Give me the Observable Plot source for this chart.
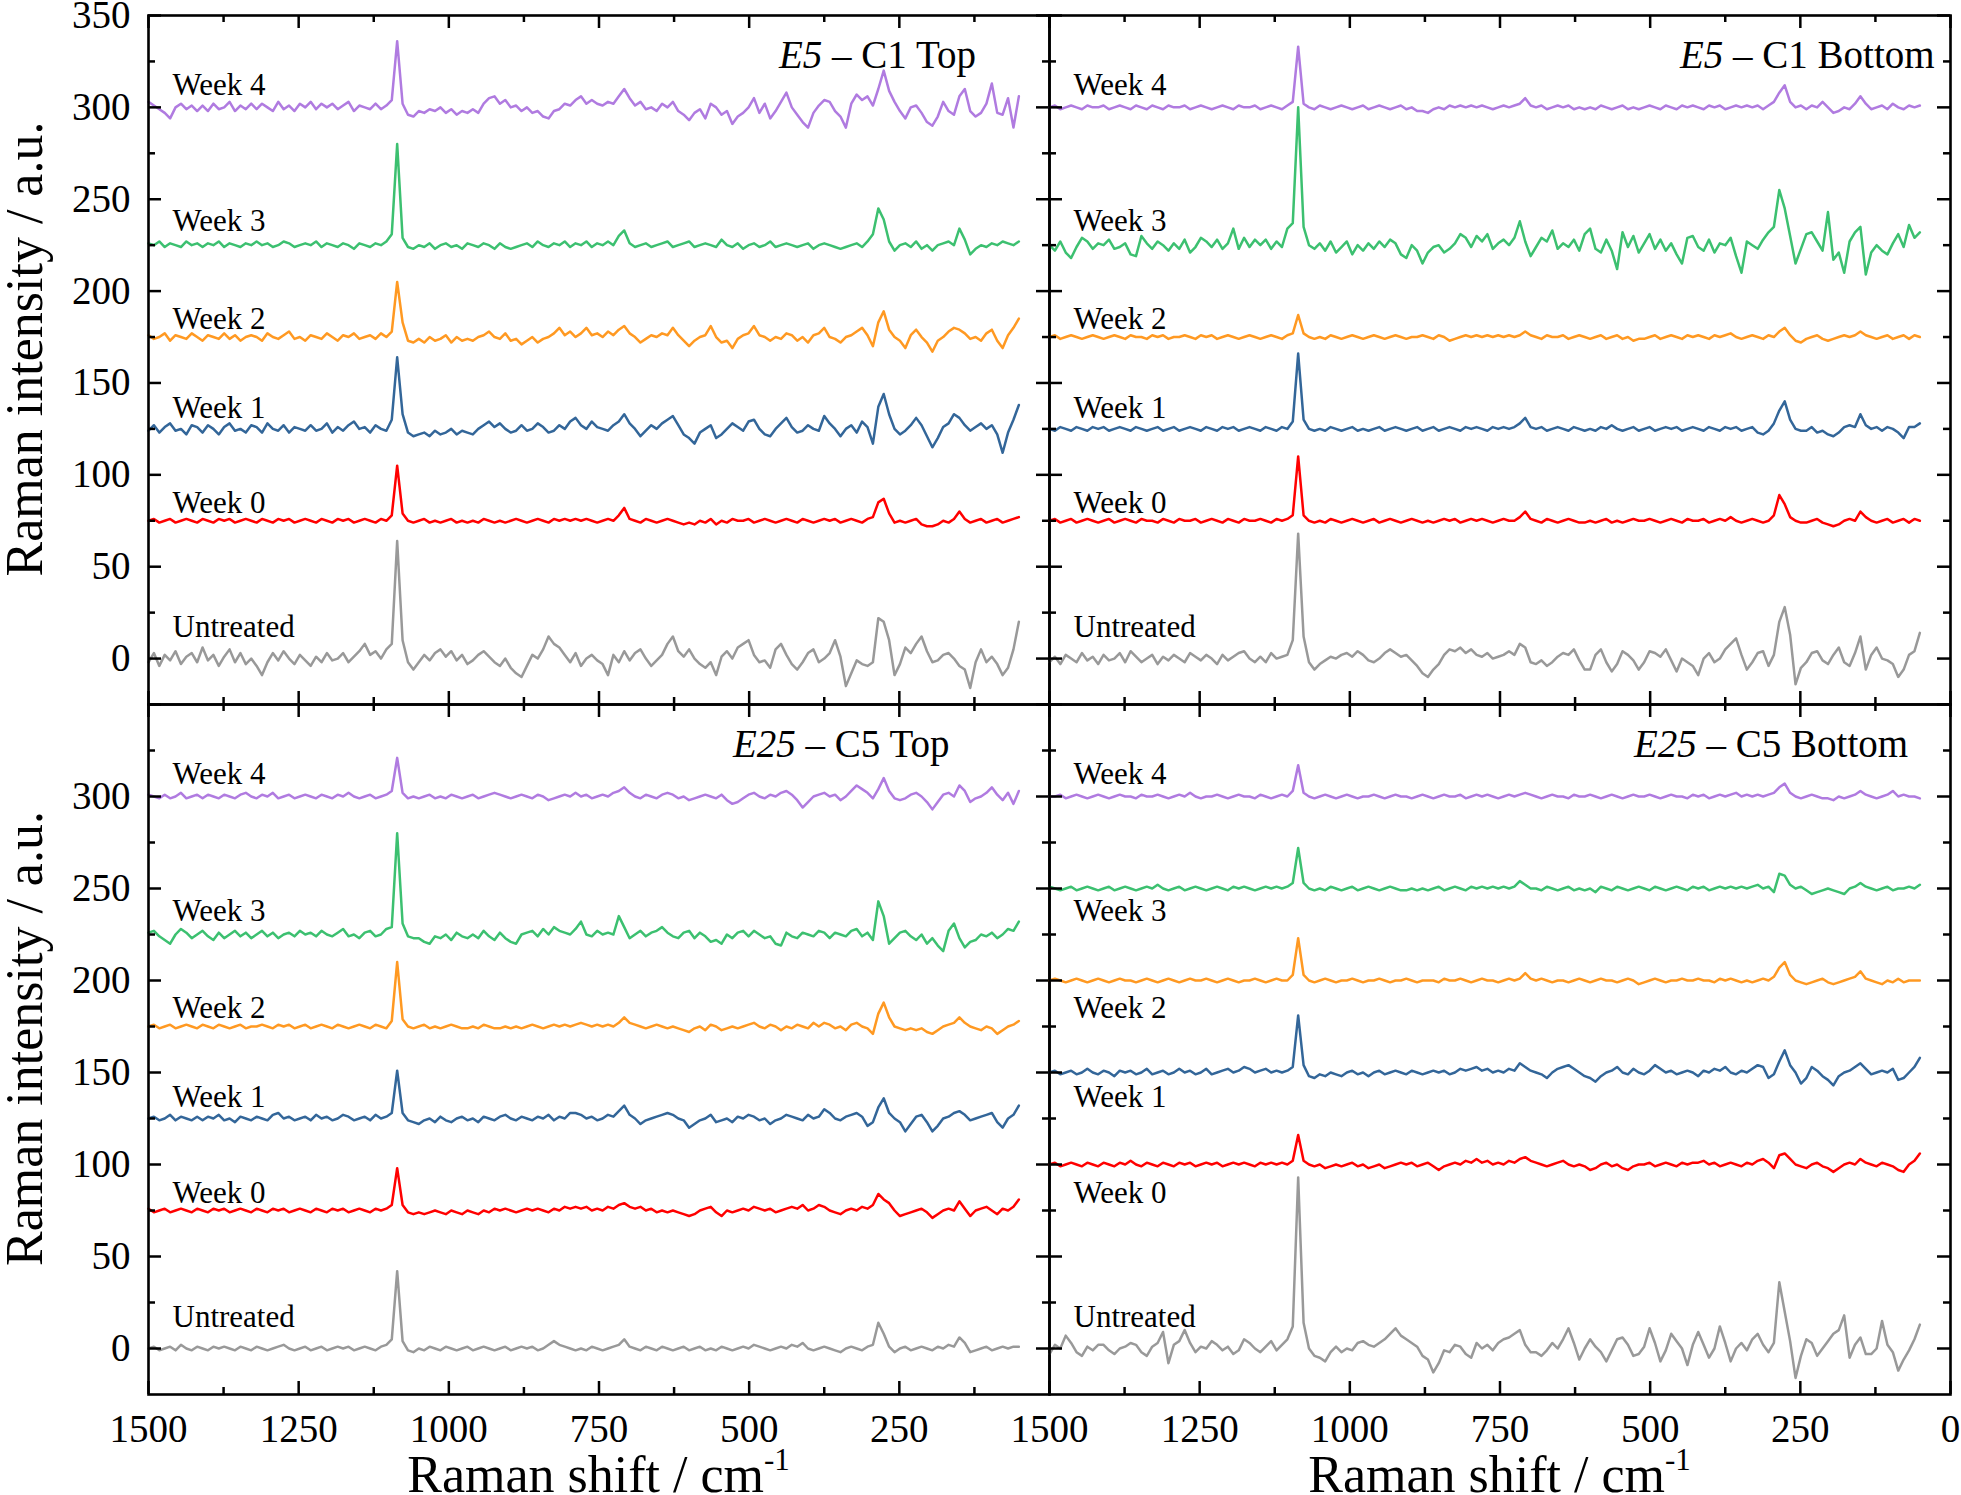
<!DOCTYPE html>
<html><head><meta charset="utf-8">
<script src="https://cdn.jsdelivr.net/npm/d3@7"></script>
<script src="https://cdn.jsdelivr.net/npm/@observablehq/plot@0.6"></script>
<style>
html,body{margin:0;padding:0;background:#fff;}
#chart{position:relative;width:1961px;height:1495px;overflow:hidden;background:#fff;}
</style></head><body><div id="chart"></div>
<script>
// Raman shift grid (cm-1), sampled every 9 cm-1 from 1500 down to 51
const shifts = d3.range(1500, 50, -9);
const seriesNames = ["Untreated", "Week 0", "Week 1", "Week 2", "Week 3", "Week 4"];
const seriesColors = ["#999999", "#ff0000", "#336699", "#ff9922", "#3cc070", "#b07be0"];
// vertical offsets used to stack the spectra
const offsetsStandard = [0, 75, 125, 175, 225, 300];
const offsetsE25Bottom = [0, 100, 150, 200, 250, 300];
const xMajorTicks = [1500, 1250, 1000, 750, 500, 250, 0];
const xMinorTicks = [1375, 1125, 875, 625, 375, 125];
const yMajorTicks = [0, 50, 100, 150, 200, 250, 300, 350];
const yMinorTicks = [25, 75, 125, 175, 225, 275, 325];
const xTickLabelsLeft = [1500, 1250, 1000, 750, 500, 250];
const xTickLabelsRight = [1500, 1250, 1000, 750, 500, 250, 0];
const yTickLabelsTop = [0, 50, 100, 150, 200, 250, 300, 350];
const yTickLabelsBottom = [0, 50, 100, 150, 200, 250, 300];

// ===== E5 - C1 Top (intensity relative to stacking offset) =====
const e5TopUntreated = [-2,3,-4,2,-1,4,-3,1,3,-2, 6,-1,2,-4,1,5,-2,3,-3,0, -4,-9,-2,3,-1,4,0,-3,2,-1, -4,1,-2,3,-1,0,3,-2,1,4,
 8,2,4,0,5,8,64,10,-2,-6, -2,2,-1,3,5,1,4,-1,2,-3, -1,2,4,1,-2,-4,0,-5,-8,-10, -4,2,0,5,12,8,6,2,-2,3,
 -4,0,2,-1,-3,-9,2,-2,4,-1, 3,5,0,-4,-1,2,8,12,4,1, 5,0,-3,-5,-2,-9,1,4,0,6, 8,10,2,-2,-1,-5,5,8,2,-3,
 -6,-2,3,5,-2,0,3,10,1,-15, -8,-1,-3,-4,-2,22,20,10,-9,-3, 6,3,8,12,4,-2,-1,2,3,0, -4,-6,-16,-2,5,-2,1,-3,-9,-5, 5,20];
const e5TopWeek0 = [0,1,-1,0,1,-1,0,1,0,-1, 1,0,-1,1,0,1,-1,0,1,0, -1,1,0,-1,1,0,1,-1,0,1, 0,-1,1,0,-1,1,0,1,-1,0,
 1,0,-1,1,0,3,30,4,0,-1, 0,1,-1,0,-1,0,1,-1,0,-1, 0,-1,1,0,-1,0,-1,0,1,0, -1,0,1,0,-1,1,0,1,0,1,
 0,1,0,-1,0,1,0,3,7,1, 0,-1,1,0,-1,0,1,0,-1,-2, -1,-2,0,-1,1,-2,0,-1,1,0, 0,1,-1,0,1,0,-1,0,1,0,
 -1,1,0,-1,0,1,0,1,-1,0, 1,0,-1,1,2,10,12,4,-1,0, -1,0,1,-2,-3,-3,-2,0,-1,1, 5,1,-1,0,1,-1,0,1,-1,0, 1,2];
const e5TopWeek1 = [-1,2,-2,1,3,-1,0,-3,2,1, -2,2,0,-3,1,3,-1,0,-2,2, 1,-2,3,0,-1,2,-2,1,0,-1, 2,-1,0,3,-2,1,-1,2,4,0,
 1,-2,2,0,-1,5,39,8,-2,-4, -3,-2,-4,-1,-3,-2,0,-3,-1,-2, -3,0,2,4,1,3,0,-2,-1,2, -1,0,3,1,-2,-1,2,0,4,6,
 2,0,4,1,0,-1,2,4,8,3, 0,-4,-1,2,0,3,5,7,2,-3, -5,-8,-2,0,2,-5,-3,0,3,1, -1,4,5,0,-3,-4,0,3,6,1,
 -2,-1,2,0,-1,7,3,0,-4,0, 2,-2,4,1,-8,12,19,8,0,-3, -1,2,6,2,-4,-10,-5,1,3,8, 6,2,-1,1,3,0,2,-3,-13,-2, 5,13];
const e5TopWeek2 = [1,-1,0,2,-2,1,0,-1,2,0, -2,1,0,-1,2,-1,1,-2,0,1, 0,-2,2,0,-1,1,3,-1,0,-2, 1,0,-1,2,0,-2,1,0,2,-1,
 0,1,-1,2,0,3,30,8,-2,-3, -1,-3,0,-2,-1,1,-3,0,-2,-1, -2,0,1,3,0,-1,2,-2,-1,-4, -2,0,-3,-1,0,2,5,1,3,0,
 2,5,1,2,0,3,1,4,6,2, 0,-3,-1,1,0,2,1,5,1,-2, -5,-2,0,1,6,0,-3,-2,-6,-1, 1,2,6,1,0,-2,0,-1,2,1,
 -2,0,-3,1,2,5,0,-1,-3,0, 1,3,5,1,-5,8,14,4,0,-2, -6,1,4,0,-3,-8,-2,0,3,5, 4,2,-1,0,-2,2,4,-2,-6,1, 5,10];
const e5TopWeek3 = [1,0,2,-1,1,0,-1,2,0,1, -1,1,0,2,-1,1,0,-1,1,0, 2,0,1,-1,0,2,1,-1,0,1, 0,2,-1,1,0,-1,1,0,-2,1,
 0,-1,1,0,2,6,55,4,-1,-2, 0,-1,1,-2,0,1,-1,0,-2,1, 0,-1,1,0,-2,1,-1,-2,-1,0, 1,-1,2,0,-1,1,0,2,-1,1,
 0,2,-1,1,0,2,0,5,8,1, -1,0,1,-1,0,1,2,-1,0,1, 2,-1,0,1,0,-1,3,0,-1,1, -2,0,1,-1,0,2,-1,0,1,0,
 -1,0,1,-2,0,1,0,-1,-2,-1, 0,1,-1,2,6,20,14,2,-3,0, 1,-1,2,-2,0,-3,0,1,2,0, 9,3,-5,-2,0,-1,1,0,2,1, 0,2];
const e5TopWeek4 = [3,1,-1,-3,-6,0,2,-1,1,-2, 1,-2,2,-1,0,3,-2,1,-1,2, -1,2,0,-2,3,-1,1,-2,2,0, 3,-1,2,0,2,-1,1,3,-2,1,
 0,-1,2,-1,1,4,36,2,-4,-5, -2,-3,-1,-2,0,-3,-1,-4,-2,-3, -1,-3,2,5,6,2,4,0,1,-2, 0,-3,-2,-5,-6,-2,-1,2,1,4,
 6,2,4,2,1,3,2,6,10,5, 1,3,-1,0,-2,2,0,3,-2,-4, -7,-3,-1,-6,2,0,-4,-2,-9,-5, -3,0,5,-3,2,-6,-2,3,8,0,
 -4,-8,-11,-3,1,4,3,-2,-5,-11, 2,7,4,6,1,10,20,9,3,-2, -6,0,1,-3,-8,-10,-5,3,-2,-4, 6,10,-2,-5,-3,2,13,-3,-4,5, -11,6];

// ===== E5 - C1 Bottom =====
const e5BottomUntreated = [-2,1,-3,2,0,-2,3,-1,1,-3, 2,-1,0,3,-2,4,1,-2,0,2, -3,1,-1,2,0,-2,3,1,-1,2, 0,-3,2,-1,1,3,4,0,-2,1,
 -2,3,0,1,2,10,68,12,-2,-6, -3,-1,1,0,2,3,1,4,2,-1, -2,0,3,5,3,1,2,-1,-4,-8, -10,-6,-3,2,5,4,6,3,5,2,
 1,3,0,1,2,4,2,8,6,-2, -3,-1,-4,-2,1,3,2,5,-1,-6, -6,2,5,-2,-7,-3,4,2,-1,-6, -2,4,3,1,5,-1,-7,0,-2,-4,
 -9,0,3,-2,0,5,8,11,2,-6, -2,3,4,-4,2,20,28,13,-14,-5, -2,3,4,-1,-3,2,6,-2,-4,3, 12,-6,2,6,0,-1,-3,-10,-6,2, 4,14];
const e5BottomWeek0 = [0,1,-1,0,1,-1,0,1,0,-1, 0,1,-1,0,1,0,-1,1,0,0, -1,1,0,-1,1,0,0,1,-1,0, 1,0,-1,1,0,-1,1,0,0,1,
 0,-1,1,0,1,3,35,3,0,-1, 0,-1,1,0,-1,0,1,0,-1,0, 1,-1,0,1,0,-1,0,1,0,-1, 0,-1,0,1,0,1,-1,0,1,0,
 1,0,-1,0,1,0,0,2,5,1, 0,-1,1,0,-1,0,1,0,-1,-1, 0,-1,0,1,-1,0,-1,0,1,0, 0,1,0,-1,0,1,0,-1,1,0,
 0,1,-1,0,1,0,2,0,-1,0, 1,0,-1,0,3,14,9,2,0,-1, -1,0,1,-1,-2,-3,-2,0,1,0, 5,2,0,-1,0,1,-1,0,1,-1, 1,0];
const e5BottomWeek1 = [0,-1,1,0,-1,1,0,-1,1,0, 1,-1,0,1,0,-1,1,0,-1,0, 1,-1,0,1,-1,0,1,0,-1,1, 0,-1,1,0,1,-1,0,1,0,-1,
 1,0,-1,1,0,4,41,5,0,-1, 0,-1,1,0,-1,0,1,-1,0,-1, 0,1,-1,0,1,0,-1,0,1,-1, 0,1,-1,0,1,0,-1,1,0,1,
 0,-1,1,0,1,0,1,3,6,1, 0,1,-1,0,1,0,-1,1,0,-1, 0,-1,1,0,2,0,-1,0,1,-1, 0,1,-1,0,1,0,1,-1,0,1,
 0,-1,1,0,-1,1,0,1,-1,0, 1,-2,-3,-1,3,10,15,5,0,-1, -1,1,-2,-1,-3,-4,-2,1,2,1, 8,2,0,1,-1,1,0,-2,-5,1, 1,3];
const e5BottomWeek2 = [0,1,-1,0,1,0,-1,0,1,0, -1,0,1,0,-1,1,0,0,-1,1, 0,1,-1,0,0,1,0,-1,1,0, 1,-1,0,1,0,-1,0,1,0,-1,
 0,1,0,-1,1,2,12,2,0,-1, 0,-1,1,0,-1,0,1,0,-1,0, 1,0,-1,0,1,0,-1,0,0,1, 0,-1,1,0,-2,-1,0,1,0,1,
 0,1,0,1,0,1,0,1,3,1, 0,-1,1,0,0,1,-1,0,1,0, -1,0,1,-1,0,1,-1,0,-2,-1, -1,0,1,-1,0,1,0,-1,1,0,
 1,0,-1,1,0,1,2,0,-1,0, 1,0,-1,1,0,3,5,1,-2,-3, -1,0,1,-1,-2,-1,0,1,0,1, 3,1,0,-1,0,1,-1,0,1,-1, 1,0];
const e5BottomWeek3 = [0,-3,2,-4,-7,-1,4,2,-2,1, 0,3,-2,-1,1,-5,-6,5,1,-2, 2,0,-3,1,-2,3,-4,-1,4,2, -1,3,-2,1,9,-2,4,-1,3,0,
 3,-2,2,-1,9,12,75,10,0,-2, 1,-3,2,-4,-1,2,-5,0,-3,1, -2,2,-1,3,1,-5,-7,0,-3,-10, -4,-1,0,-4,-2,1,6,4,-1,5,
 2,6,-2,1,3,0,4,13,2,-6, -1,4,2,8,-2,1,-1,3,-3,6, 9,-2,-4,3,-3,-13,7,-1,5,-4, 1,6,-2,3,-3,1,-5,-10,4,5,
 -1,-3,3,-4,1,0,4,-6,-15,2, 0,-2,3,7,10,30,20,5,-10,-2, 6,7,2,-3,18,-8,-4,-15,2,7, 10,-16,-4,0,-3,-5,1,6,-1,11, 4,7];
const e5BottomWeek4 = [0,1,-1,0,1,0,-1,1,0,0, 1,-1,0,1,0,-1,1,0,-1,1, 0,-1,1,0,0,1,-1,0,1,0, -1,0,1,0,-1,1,0,0,1,-1,
 0,1,0,-1,1,3,33,2,0,-1, 1,0,-1,0,1,0,-1,0,1,-1, 0,1,0,-1,0,1,-1,0,-2,-2, -3,-1,0,-1,1,0,1,0,1,0,
 1,0,-1,0,1,0,1,2,5,1, 0,1,-1,0,1,0,1,-1,0,-1, 0,-1,1,0,-1,0,1,-1,0,-1, 0,1,0,-1,1,0,-1,1,0,1,
 0,-1,1,0,1,-1,0,1,0,1, 0,1,-1,1,3,8,12,3,0,1, -1,1,0,3,0,-3,-2,0,-1,2, 6,2,-1,0,1,-1,2,0,-1,1, 0,1];

// ===== E25 - C5 Top =====
const e25TopUntreated = [0,1,-1,0,1,-1,2,0,-1,1, 0,-1,1,0,1,0,-1,1,0,-1, 1,0,-1,0,1,2,0,-1,0,1, -1,0,1,-1,0,1,0,1,-1,0,
 1,0,-1,1,2,5,42,4,-1,-2, 0,-1,1,0,-1,1,0,-1,0,1, -1,0,1,0,-1,0,1,-1,0,1, 0,1,-1,0,2,4,2,1,0,-1,
 0,-1,1,0,-1,0,1,2,5,1, 0,-1,1,0,-1,1,0,-1,0,1, -1,0,1,-1,0,-1,1,0,-1,0, 1,0,2,1,0,-1,0,1,0,2,
 1,3,0,-1,0,1,0,-1,-2,0, 1,0,-1,1,2,14,8,1,-2,0, 1,-1,0,1,0,-1,1,0,2,1, 6,3,-2,-1,0,1,-1,0,1,0, 1,1];
const e25TopWeek0 = [1,-1,0,1,-1,0,1,0,-1,1, 0,-1,1,0,1,-1,0,1,0,-1, 1,0,-1,1,0,1,-1,0,1,0, -1,1,0,-1,1,0,1,-1,0,1,
 0,-1,1,0,1,3,23,3,-1,-2, -1,-2,-1,0,-1,-2,0,-1,-2,0, -1,-2,0,-1,1,0,1,0,-1,0, 1,0,1,0,-1,1,0,2,1,2,
 1,2,0,1,0,2,1,3,4,2, 1,2,0,1,-1,0,-1,0,-1,-2, -3,-2,0,1,2,-1,-3,0,-1,0, 1,0,2,1,0,1,-1,0,1,2,
 1,3,0,1,3,2,0,-1,-2,0, 1,0,2,1,3,9,6,4,0,-3, -2,-1,0,1,-1,-4,-2,0,1,0, 5,1,-3,0,1,2,0,-2,1,0, 2,6];
const e25TopWeek1 = [0,1,-1,0,2,-1,1,0,-1,1, -1,1,0,2,-1,0,-2,1,0,-1, 1,0,-1,2,3,0,1,-1,0,1, -1,2,0,1,-1,0,2,1,-1,0,
 1,-1,2,0,1,3,26,3,-1,-2, -3,-1,0,-2,1,-1,-2,0,1,-1, 0,-2,1,0,-1,1,2,0,-1,1, 0,-1,1,0,2,-1,1,0,3,3,
 2,0,1,-1,0,2,1,4,7,2, 0,-3,-1,0,1,2,3,2,0,-1, -5,-3,-1,0,2,-2,-1,0,-2,1, 0,2,1,-1,0,-3,-1,0,2,1,
 0,-1,2,0,1,5,3,0,-1,1, 2,3,1,-4,-2,6,11,3,0,-2, -7,-3,1,2,-2,-7,-4,0,1,3, 4,2,-1,0,1,2,3,-2,-5,0, 2,7];
const e25TopWeek2 = [0,1,-1,0,1,-1,0,1,0,-1, 1,0,-1,1,0,-1,0,1,-1,0, 0,1,0,-1,1,0,1,-1,0,1, -1,0,1,0,-1,1,0,-1,0,1,
 0,-1,1,0,-1,3,35,4,0,-1, 0,1,-1,0,-1,0,1,0,-1,-1, 0,-1,1,0,-1,-1,0,-1,0,-1, 0,1,0,-1,0,1,0,1,0,1,
 2,1,0,1,0,1,0,2,5,2, 1,0,-1,0,1,0,-1,0,-1,-2, -3,-1,0,-2,1,0,-2,-1,0,-1, 0,1,2,0,-1,1,0,-2,0,-1,
 1,0,-1,2,0,2,1,-1,0,-2, 1,2,0,-1,-4,7,13,5,0,-1, -2,-1,-2,-1,-3,-4,-2,0,1,2, 5,2,0,-1,-2,0,-1,-4,-2,0, 1,3];
const e25TopWeek3 = [1,2,-1,-3,-5,0,3,1,-2,0, 2,-1,-3,1,-2,0,2,-1,1,-2, 0,2,-1,1,-2,0,1,-1,2,0, 1,-1,2,0,-1,1,3,-1,0,-2,
 1,2,-1,0,3,4,55,6,-1,-2, -2,-4,-5,-1,-2,0,-3,1,-1,-2, 0,-2,2,-1,-3,1,-2,-4,-5,0, 1,2,-1,3,0,4,2,1,0,3,
 7,0,-1,2,0,1,0,10,4,-2, 0,2,-1,1,2,4,1,-1,-2,1, 2,-2,1,-1,-4,-3,-5,0,-2,1, 2,-1,2,0,-2,-1,-5,-6,1,-1,
 -2,1,0,-1,2,1,-2,1,0,-1, 2,3,-1,1,-3,18,10,-5,-2,1, 2,-1,-3,0,-5,-2,-6,-9,2,6, -2,-7,-4,-3,0,-1,1,-2,0,3, 2,7];
const e25TopWeek4 = [1,0,-1,1,-1,0,2,-1,0,1, -1,1,0,-1,1,0,-1,1,2,0, -1,1,0,2,-1,0,1,-1,0,1, 0,-1,1,0,-1,1,0,2,0,-1,
 0,1,-1,0,1,3,21,2,-1,0, -1,0,1,-1,0,-1,1,0,-1,0, 1,-1,0,1,2,1,0,-1,0,1, 0,-1,1,0,-2,-1,0,1,0,2,
 0,1,-1,0,1,0,2,3,5,2, 0,-1,1,0,-1,1,2,1,-1,0, -2,-1,0,1,0,-1,1,-2,-4,-3, -1,1,2,0,-1,1,0,2,3,1,
 -2,-6,-3,0,1,2,0,1,-2,0, 3,6,4,2,-1,4,10,3,-1,-2, -1,1,2,0,-3,-7,-3,1,2,0, 6,3,-3,-1,0,2,5,1,-2,2, -4,3];

// ===== E25 - C5 Bottom =====
const e25BottomUntreated = [-3,2,0,7,3,-2,-4,1,-1,2, 2,-1,-3,0,1,3,2,-2,-4,1, 3,9,-8,2,4,10,3,-2,1,0, 4,2,-1,1,-3,-1,5,3,0,-2,
 1,4,-1,2,5,12,93,14,0,-4, -5,-7,-2,1,-2,0,-1,3,4,2, 1,3,5,8,11,7,5,3,1,-4, -6,-13,-8,-1,-2,2,1,-3,-5,3,
 0,2,-1,3,5,6,8,10,2,-2, -2,-4,-1,3,0,5,11,3,-6,0, 5,1,-2,-7,-1,5,6,2,-4,-3, 1,11,3,-7,-1,8,4,0,-9,2,
 9,2,-5,0,12,3,-7,0,3,-1, 5,8,2,-2,3,36,20,4,-16,-4, 5,3,-4,0,4,8,10,18,-5,2, 6,-3,-3,0,15,2,-2,-12,-6,-1, 5,13];
const e25BottomWeek0 = [0,1,-1,0,1,0,-1,1,0,-1, 1,0,-1,1,0,2,0,-1,1,0, -1,1,0,-1,1,0,1,-1,0,1, 0,1,-1,0,1,0,1,0,-1,1,
 0,1,0,1,0,2,16,2,0,-1, 0,-2,-1,0,-1,0,1,-1,0,-2, -1,0,-2,-1,0,1,0,1,-1,0, 1,-1,-3,-1,0,1,0,2,1,3,
 1,2,0,1,0,2,1,3,4,2, 1,0,-1,0,1,2,0,-1,0,-1, -3,-2,0,1,-1,0,-2,-3,-1,0, 0,1,-1,0,1,0,-1,1,0,1,
 1,2,0,1,-1,0,1,0,-1,1, 0,2,3,1,-2,5,6,3,0,-1, -2,0,1,-1,-2,-4,-2,0,1,0, 3,1,0,-1,1,0,-1,-3,-4,0, 2,6];
const e25BottomWeek1 = [0,1,-1,0,1,-1,0,2,0,-1, 1,0,-2,1,0,1,-1,0,2,-1, 0,1,-1,0,2,0,1,-1,0,2, -1,0,1,2,0,1,3,2,0,1,
 2,0,1,0,1,3,31,4,-2,-3, -1,-2,0,-1,-2,0,1,-1,0,-2, 0,1,-1,0,1,0,-1,1,0,-1, 0,1,0,1,-1,0,2,1,2,3,
 1,2,0,1,0,2,1,5,3,1, 0,-1,-3,0,2,3,4,2,0,-2, -3,-5,-2,0,1,3,0,-1,2,0, -1,1,4,2,0,1,-1,0,1,0,
 -2,1,0,2,1,3,0,-1,1,0, 2,4,3,-3,-1,6,12,4,0,-6, -3,3,1,-2,-4,-7,-2,0,1,3, 5,2,-1,0,1,0,2,-4,-3,0, 3,8];
const e25BottomWeek2 = [0,1,0,-1,0,1,0,-1,0,1, 0,-1,0,1,0,0,-1,0,1,0, -1,0,1,0,-1,0,1,0,0,1, 0,-1,0,1,0,-1,0,0,1,0,
 -1,0,1,0,0,3,23,3,0,-1, 0,1,0,-1,0,0,1,0,-1,0, 0,1,0,-1,0,0,1,0,-1,0, 0,0,-1,1,0,0,1,0,-1,0,
 1,0,0,-1,0,1,0,1,4,1, 0,1,0,-1,0,0,-1,0,1,0, -1,0,1,0,0,-1,0,1,0,-2, -1,0,1,0,-1,0,0,1,0,0,
 1,0,0,-1,1,0,1,0,-1,0, -1,0,1,0,2,7,10,3,0,-1, -2,-1,0,1,-1,-2,-1,0,1,2, 5,1,0,-1,-2,0,-1,1,-1,0, 0,0];
const e25BottomWeek3 = [1,0,-1,0,1,-1,0,1,0,-1, 0,1,-1,0,1,0,-1,0,1,0, 2,0,-1,0,1,-1,0,1,0,-1, 0,1,0,-1,1,0,1,0,-1,0,
 1,0,1,0,1,3,22,3,0,-1, 0,-1,1,0,-1,0,1,-1,0,1, 0,-1,0,1,0,-1,-1,0,-1,0, -1,0,1,-1,0,1,0,-1,1,0,
 1,0,1,0,1,0,1,4,2,0, 0,-1,1,0,-1,0,1,-1,0,-1, 0,-2,1,0,-1,1,0,-1,0,1, 0,-1,1,0,-1,0,1,0,-1,1,
 0,1,-1,0,1,0,1,0,1,0, 1,2,0,1,-2,8,7,2,0,1, -1,-3,-2,-1,0,-1,-2,-3,0,1, 3,1,0,-1,0,1,-1,0,0,1, 0,2];
const e25BottomWeek4 = [0,0,1,-1,0,1,0,-1,0,1, 0,-1,0,1,0,0,-1,1,0,0, 1,0,-1,0,1,0,2,0,-1,0, 0,1,0,-1,0,1,0,0,-1,1,
 0,-1,0,1,0,3,17,2,0,-1, 0,1,0,-1,0,1,0,-1,0,0, 1,0,-1,0,1,0,0,-1,0,1, 0,-1,0,1,0,0,1,-1,0,1,
 0,1,0,-1,0,1,0,1,2,1, 0,-1,0,1,0,0,-1,1,0,0, 1,0,-1,0,1,0,-1,0,1,0, 0,1,0,-1,0,1,0,0,-1,1,
 0,1,-1,0,1,0,1,2,0,1, 0,1,0,1,2,5,7,2,0,-1, 0,1,0,-1,-1,-2,0,-1,0,1, 3,1,0,-1,0,1,3,0,1,0, 0,-1];

// ---------- drawing ----------
const serif = "'Liberation Serif', 'Times New Roman', Times, serif";
const labelBaselines = [11.5, 79, 131, 179.5, 232.5, 307];
const chart = document.getElementById("chart");

function drawPanel(cfg) {
  const {left, top, ml, mr, mt, mb, fw, fh, spectra, offsets, titleItalic, titleRest, titleDx,
         xLabels, yLabels, showYTitle, showXTitle} = cfg;
  const rows = [];
  spectra.forEach((vals, k) => vals.forEach((v, i) => {
    if (i < shifts.length) rows.push({shift: shifts[i], intensity: v + offsets[k], series: seriesNames[k]});
  }));
  const MAJ = 13, MIN = 7, TW = 2.5;
  const marks = [
    Plot.line(rows, {x: "shift", y: "intensity", z: "series", stroke: "series", strokeWidth: 2.5}),
    Plot.text(seriesNames, {text: d => d, y: (d, i) => labelBaselines[i], frameAnchor: "left", dx: 24,
      textAnchor: "start", lineAnchor: "bottom", fontSize: 31, fontFamily: serif}),
    Plot.ruleX(xMajorTicks, {x: d => d, insetTop: fh - MAJ, strokeWidth: TW}),
    Plot.ruleX(xMajorTicks, {x: d => d, insetBottom: fh - MAJ, strokeWidth: TW}),
    Plot.ruleX(xMinorTicks, {x: d => d, insetTop: fh - MIN, strokeWidth: TW}),
    Plot.ruleX(xMinorTicks, {x: d => d, insetBottom: fh - MIN, strokeWidth: TW}),
    Plot.ruleY(yMajorTicks, {y: d => d, insetRight: fw - MAJ, strokeWidth: TW}),
    Plot.ruleY(yMajorTicks, {y: d => d, insetLeft: fw - MAJ, strokeWidth: TW}),
    Plot.ruleY(yMinorTicks, {y: d => d, insetRight: fw - MIN, strokeWidth: TW}),
    Plot.ruleY(yMinorTicks, {y: d => d, insetLeft: fw - MIN, strokeWidth: TW}),
    Plot.frame({stroke: "black", strokeWidth: 2.6})
  ];
  if (xLabels) marks.push(Plot.text(xLabels, {x: d => d, text: d => String(d), frameAnchor: "bottom", dy: 20,
    textAnchor: "middle", lineAnchor: "top", fontSize: 39, fontFamily: serif}));
  if (yLabels) marks.push(Plot.text(yLabels, {y: d => d, text: d => String(d), frameAnchor: "left", dx: -18,
    textAnchor: "end", lineAnchor: "middle", fontSize: 39, fontFamily: serif}));
  if (showYTitle) marks.push(Plot.text(["Raman intensity / a.u."], {text: d => d, frameAnchor: "left", dx: -123, dy: -11,
    rotate: -90, textAnchor: "middle", lineAnchor: "middle", fontSize: 52, fontFamily: serif}));
  const svg = Plot.plot({
    width: ml + fw + mr, height: mt + fh + mb,
    marginLeft: ml, marginRight: mr, marginTop: mt, marginBottom: mb,
    x: {domain: [1500, 0], axis: null},
    y: {domain: [-25, 350], axis: null},
    color: {domain: seriesNames, range: seriesColors},
    style: {background: "transparent", overflow: "visible", fontFamily: serif, color: "black"},
    marks
  });
  const sel = d3.select(svg);
  const t = sel.append("text").attr("x", ml + titleDx).attr("y", mt + 53).attr("text-anchor", "start")
    .attr("font-size", 39).attr("font-family", serif).attr("fill", "black");
  t.append("tspan").attr("font-style", "italic").text(titleItalic);
  t.append("tspan").text(titleRest);
  if (showXTitle) {
    const xt = sel.append("text").attr("x", ml + fw / 2).attr("y", mt + fh + 98)
      .attr("text-anchor", "middle").attr("font-size", 52).attr("font-family", serif).attr("fill", "black");
    xt.append("tspan").text("Raman shift / cm");
    xt.append("tspan").attr("font-size", 31).attr("dy", -22).text("-1");
  }
  svg.style.position = "absolute";
  svg.style.left = left + "px";
  svg.style.top = top + "px";
  svg.style.maxWidth = "none";
  chart.appendChild(svg);
}

drawPanel({left: 0, top: 0, ml: 148, mr: 0, mt: 15, mb: 0, fw: 901, fh: 689,
  spectra: [e5TopUntreated, e5TopWeek0, e5TopWeek1, e5TopWeek2, e5TopWeek3, e5TopWeek4], offsets: offsetsStandard,
  titleItalic: "E5", titleRest: " \u2013 C1 Top", titleDx: 631, xLabels: null, yLabels: yTickLabelsTop, showYTitle: true});
drawPanel({left: 1049, top: 0, ml: 0, mr: 11, mt: 15, mb: 0, fw: 901, fh: 689,
  spectra: [e5BottomUntreated, e5BottomWeek0, e5BottomWeek1, e5BottomWeek2, e5BottomWeek3, e5BottomWeek4], offsets: offsetsStandard,
  titleItalic: "E5", titleRest: " \u2013 C1 Bottom", titleDx: 631, xLabels: null, yLabels: null});
drawPanel({left: 0, top: 704, ml: 148, mr: 0, mt: 0, mb: 101, fw: 901, fh: 690,
  spectra: [e25TopUntreated, e25TopWeek0, e25TopWeek1, e25TopWeek2, e25TopWeek3, e25TopWeek4], offsets: offsetsStandard,
  titleItalic: "E25", titleRest: " \u2013 C5 Top", titleDx: 585, xLabels: xTickLabelsLeft, yLabels: yTickLabelsBottom,
  showYTitle: true, showXTitle: true});
drawPanel({left: 1049, top: 704, ml: 0, mr: 11, mt: 0, mb: 101, fw: 901, fh: 690,
  spectra: [e25BottomUntreated, e25BottomWeek0, e25BottomWeek1, e25BottomWeek2, e25BottomWeek3, e25BottomWeek4], offsets: offsetsE25Bottom,
  titleItalic: "E25", titleRest: " \u2013 C5 Bottom", titleDx: 585, xLabels: xTickLabelsRight, yLabels: null, showXTitle: true});
</script></body></html>
